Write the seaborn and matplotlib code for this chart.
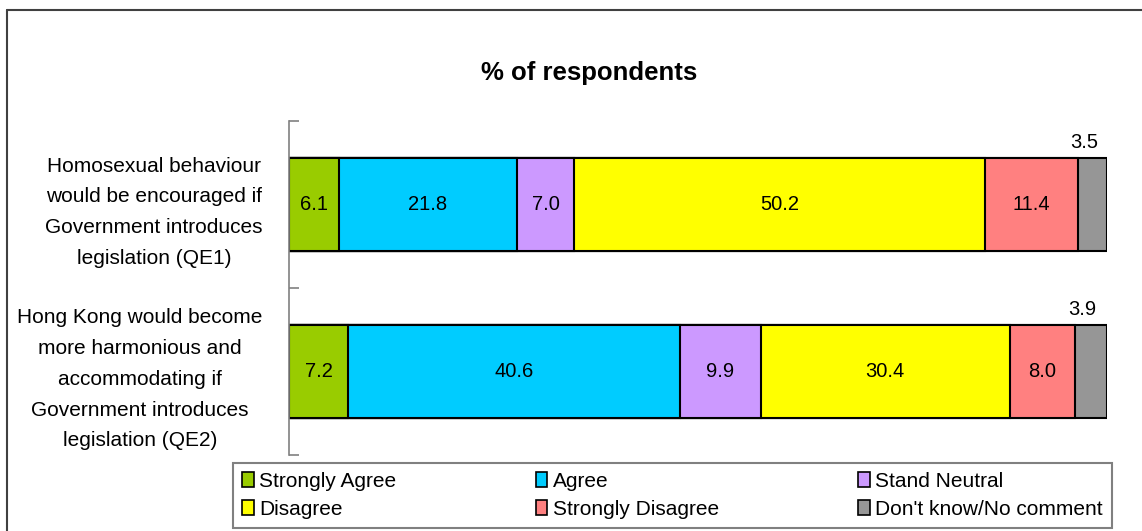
# Stacked horizontal bar chart, % of respondents

import pandas as pd
import numpy as np
import seaborn as sns
import matplotlib.pyplot as plt
from matplotlib.patches import Patch
from matplotlib.lines import Line2D

# data
questions = ['Homosexual behaviour\nwould be encouraged if\nGovernment introduces\nlegislation (QE1)',
             'Hong Kong would become\nmore harmonious and\naccommodating if\nGovernment introduces\nlegislation (QE2)']
responses = ['Strongly Agree', 'Agree', 'Stand Neutral',
             'Disagree', 'Strongly Disagree', "Don't know/No comment"]
qe1 = [6.1, 21.8, 7.0, 50.2, 11.4, 3.5]
qe2 = [7.2, 40.6, 9.9, 30.4, 8.0, 3.9]
colors = ['#99CC00', '#00CCFF', '#CC99FF', '#FFFF00', '#FF8080', '#969696']

sns.set_style('white')
plt.rcParams['font.family'] = ['Liberation Sans', 'DejaVu Sans']
plt.rcParams['text.color'] = 'black'
plt.rcParams['ytick.color'] = 'black'
plt.rcParams['ytick.labelcolor'] = 'black'

df = pd.DataFrame([qe1, qe2], columns=responses)
df['question'] = questions
cum = df[responses].cumsum(axis=1)

fig = plt.figure(figsize=(11.42, 5.31), dpi=100)
ax = fig.add_axes([289 / 1142, 1 - 455 / 531, (1107 - 289) / 1142, (455 - 121) / 531])

# draw cumulative bars from the longest one down so they stack
for i in range(len(responses) - 1, -1, -1):
    sns.barplot(x=cum[responses[i]], y=df['question'], color=colors[i], orient='h',
                width=0.56, saturation=1, edgecolor='black', linewidth=1.5, ax=ax)

# value labels
for r, q in enumerate(questions):
    for i, name in enumerate(responses):
        v = df.loc[r, name]
        mid = cum.loc[r, name] - v / 2
        if i == len(responses) - 1:
            ax.annotate(f'{v:.1f}', (mid, r - 0.28), xytext=(-6, 11), textcoords='offset points',
                        ha='center', va='center', fontsize=14.5, color='black')
        else:
            ax.text(mid, r, f'{v:.1f}', ha='center', va='center', fontsize=14.5, color='black')

ax.set_xlim(0, 100)
ax.set_ylim(1.5, -0.5)
ax.set_xlabel('')
ax.set_ylabel('')
ax.set_xticks([])
ax.set_yticks([0, 1])
ax.set_yticklabels(questions, fontsize=15, multialignment='center', linespacing=1.78, color='black')
ax.set_yticks([-0.5, 0.5, 1.5], minor=True)
ax.tick_params(axis='y', which='major', left=False, length=0, pad=19)
ax.tick_params(axis='y', which='minor', left=True, length=7, direction='in', color='#808080', width=1.2)
for s in ['top', 'right', 'bottom']:
    ax.spines[s].set_visible(False)
ax.spines['left'].set_color('#808080')
ax.spines['left'].set_linewidth(1.2)

fig.text(589 / 1142, 1 - 73 / 531, '% of respondents', ha='center', va='center',
         fontsize=18.5, fontweight='bold', color='black')

# legend box at the bottom, filled row by row
order = [0, 3, 1, 4, 2, 5]
handles = [Patch(facecolor=colors[k], edgecolor='black', linewidth=1.2) for k in order]
labels = [responses[k] for k in order]
leg = fig.legend(handles, labels, ncol=3, mode='expand', fontsize=15,
                 bbox_to_anchor=(233 / 1142, 1 - 528 / 531, (1112 - 233) / 1142, 66 / 531),
                 loc='lower left', fancybox=False, framealpha=1, borderaxespad=0,
                 handlelength=0.55, handleheight=0.75, handletextpad=0.25,
                 labelspacing=0.42, borderpad=0.45)
leg.get_frame().set_edgecolor('#808080')
leg.get_frame().set_linewidth(1.5)

# outer frame lines
fig.add_artist(Line2D([7 / 1142, 7 / 1142], [0, 1 - 10 / 531], color='#404040', linewidth=1.5))
fig.add_artist(Line2D([7 / 1142, 1], [1 - 10 / 531, 1 - 10 / 531], color='#404040', linewidth=1.5))

plt.savefig('out.png', dpi=100)
